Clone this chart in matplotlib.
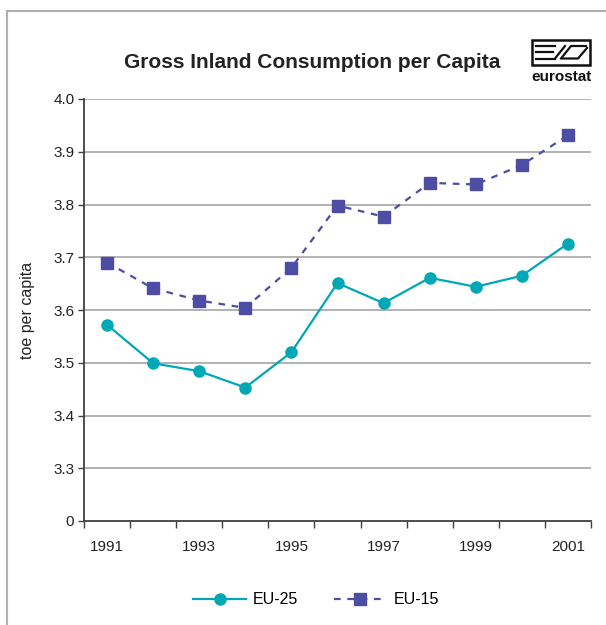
import matplotlib.pyplot as plt
import matplotlib.patches as mpatches
from matplotlib.lines import Line2D
import numpy as np

# Data
years = [1991, 1992, 1993, 1994, 1995, 1996, 1997, 1998, 1999, 2000, 2001]
eu25 = [3.572, 3.499, 3.484, 3.453, 3.520, 3.651, 3.613, 3.661, 3.644, 3.665, 3.726]
eu15 = [3.690, 3.641, 3.618, 3.604, 3.680, 3.798, 3.777, 3.841, 3.838, 3.875, 3.931]
y_ticks = [3.2, 3.3, 3.4, 3.5, 3.6, 3.7, 3.8, 3.9, 4.0]
y_labels = ['0', '3.3', '3.4', '3.5', '3.6', '3.7', '3.8', '3.9', '4.0']

plt.rcParams['font.family'] = ['Liberation Sans', 'DejaVu Sans']

W, H = 606, 625
fig = plt.figure(figsize=(W / 100, H / 100), dpi=100)
ax = fig.add_axes([84 / W, 1 - 521 / H, (591 - 84) / W, (521 - 99) / H])

x = np.arange(len(years))
ax.plot(x, eu25, color='#00A8B5', lw=1.6, marker='o', ms=8, label='EU-25', zorder=3)
ax.plot(x, eu15, color='#4D4DA3', lw=1.6, ls=(0, (3, 3)), marker='s', ms=8,
        label='EU-15', zorder=3)

ax.set_xlim(-0.5, len(years) - 0.5)
ax.set_ylim(3.2, 4.0)

# category boundaries as tick marks, labels every other year
ax.set_xticks(np.arange(-0.5, len(years), 1.0))
ax.set_xticklabels([])
ax.set_xticks(x[::2], minor=True)
ax.set_xticklabels([str(y) for y in years[::2]], minor=True)
ax.tick_params(axis='x', which='major', direction='out', length=5, width=1, color='#404040')
ax.tick_params(axis='x', which='minor', length=0, pad=14, labelsize=11, labelcolor='#222222')

ax.set_yticks(y_ticks)
ax.set_yticklabels(y_labels)
ax.tick_params(axis='y', direction='out', length=4, width=1, color='#404040',
               labelsize=11, labelcolor='#222222', pad=3)

# gridlines
for v in y_ticks[1:]:
    ax.axhline(v, color='#a6a6a6', lw=1.2, zorder=1)

for s in ['top', 'right']:
    ax.spines[s].set_visible(False)
for s in ['left', 'bottom']:
    ax.spines[s].set_color('#404040')
    ax.spines[s].set_linewidth(1.3)

ax.set_ylabel('toe per capita', fontsize=11.5, color='#222222')
ax.yaxis.set_label_coords(-(84 - 35) / (591 - 84), 0.5)

fig.text(312 / W, 1 - 62 / H, 'Gross Inland Consumption per Capita', ha='center', va='center',
         fontsize=15, fontweight='bold', color='#222222')

# legend
fig.legend(loc='center', bbox_to_anchor=(316 / W, 1 - 600 / H), ncol=2, frameon=False,
           fontsize=11.5, handlelength=3.3, columnspacing=2.2, handletextpad=0.45)

# figure border (top and left)
fig.add_artist(Line2D([6.5 / W, 6.5 / W], [0, 1 - 11 / H], transform=fig.transFigure,
                      color='#b0b0b0', lw=1.5))
fig.add_artist(Line2D([6.5 / W, 1], [1 - 11 / H, 1 - 11 / H], transform=fig.transFigure,
                      color='#b0b0b0', lw=1.5))

# eurostat logo
def px(xp, yp):
    return xp / W, 1 - yp / H

bx0, by0, bx1, by1 = 532, 40, 590, 65
fig.add_artist(mpatches.Rectangle(px(bx0, by1), (bx1 - bx0) / W, (by1 - by0) / H,
                                  transform=fig.transFigure, fill=False, ec='#111111', lw=1.8))
logo_lines = [
    [(536, 46), (555, 46)],
    [(536, 52), (553, 52)],
    [(536, 58.5), (555, 58.5)],
    [(555, 58.5), (565, 46)],
    [(561, 58.5), (571, 46), (586, 46)],
    [(563, 58.5), (578, 58.5), (587, 48)],
]
for seg in logo_lines:
    xs = [p[0] / W for p in seg]
    ys = [1 - p[1] / H for p in seg]
    fig.add_artist(Line2D(xs, ys, transform=fig.transFigure, color='#111111', lw=1.6))
fig.text(562 / W, 1 - 77 / H, 'eurostat', ha='center', va='center', fontsize=11,
         fontweight='bold', color='#111111')

fig.savefig('out.png', dpi=100)
